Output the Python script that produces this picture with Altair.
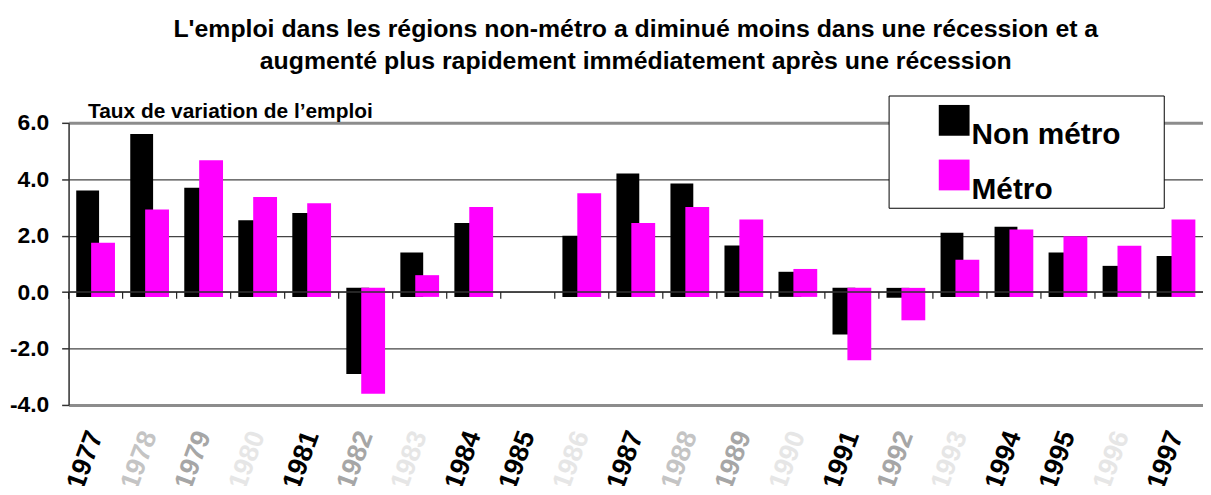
import altair as alt
import pandas as pd

# ---- data -------------------------------------------------------------
years = ["1977", "1978", "1979", "1980", "1981", "1982", "1983", "1984", "1985", "1986", "1987",
         "1988", "1989", "1990", "1991", "1992", "1993", "1994", "1995", "1996", "1997"]
non_metro = [3.6, 5.6, 3.7, 2.55, 2.8, -2.9, 1.4, 2.45, None, 2.0, 4.2,
             3.85, 1.65, 0.72, -1.5, -0.2, 2.1, 2.32, 1.4, 0.93, 1.28]
metro = [1.75, 2.93, 4.67, 3.37, 3.15, -3.6, 0.6, 3.02, None, 3.5, 2.45,
         3.02, 2.57, 0.82, -2.42, -1.0, 1.15, 2.22, 1.98, 1.64, 2.57]
series_names = ["Non métro", "Métro"]
y_ticks = [-4, -2, 0, 2, 4, 6]

# ---- styles -----------------------------------------------------------
series_colors = ["#000000", "#ff00ff"]
label_colors = ["#000000", "#c4c4c4", "#a6a6a6", "#e6e6e6", "#000000", "#a6a6a6", "#e6e6e6",
                "#000000", "#000000", "#e6e6e6", "#000000", "#c4c4c4", "#a6a6a6", "#e6e6e6",
                "#000000", "#a6a6a6", "#e6e6e6", "#000000", "#000000", "#e6e6e6", "#000000"]
FONT = "Liberation Sans"

rows = []
for i, yr in enumerate(years):
    for name, vals in zip(series_names, [non_metro, metro]):
        if vals[i] is not None:
            rows.append({"annee": yr, "serie": name, "valeur": vals[i]})
df = pd.DataFrame(rows)
years_df = pd.DataFrame({"annee": years})

label_color_expr = "".join(
    f"datum.value == '{y}' ? '{c}' : " for y, c in zip(years, label_colors)
) + "'#000000'"

x_scale = alt.Scale(domain=years, paddingInner=0, paddingOuter=0)
y_scale = alt.Scale(domain=[-4, 6], nice=False, zero=False)

x_axis = alt.Axis(
    title=None, domain=False, ticks=False, grid=False,
    labelAngle=-70, labelFont=FONT, labelFontSize=27, labelFontWeight="bold",
    labelColor={"expr": label_color_expr}, labelPadding=27,
)
y_axis = alt.Axis(
    values=y_ticks,
    labelExpr="datum.value < 0 ? '-' + format(abs(datum.value), '.1f') : format(datum.value, '.1f')",
    labelFont=FONT, labelFontSize=23, labelFontWeight="bold", labelColor="#000000",
    labelPadding=13, domainColor="#333333", domainWidth=1.5,
    tickColor="#333333", tickSize=7, tickWidth=1.5,
    grid=True,
    gridColor={"expr": "datum.value == 6 || datum.value == -4 ? '#8c8c8c' : '#444444'"},
    gridWidth={"expr": "datum.value == 6 || datum.value == -4 ? 3 : 1.2"},
    title="Taux de variation de l’emploi", titleAngle=0, titleAlign="left",
    titleBaseline="alphabetic", titleX=19, titleY=-5, titleFont=FONT,
    titleFontSize=21, titleFontWeight="bold", titleColor="#000000",
)

color = alt.Color(
    "serie:N",
    scale=alt.Scale(domain=series_names, range=series_colors),
    legend=alt.Legend(
        orient="none", legendX=876, legendY=-18, title=None, padding=0,
        symbolType="square", symbolSize=961, symbolStrokeWidth=0, symbolOpacity=1,
        labelFont=FONT, labelFontSize=30, labelFontWeight="bold", labelColor="#000000",
        labelBaseline="top", labelOffset=2, rowPadding=9,
    ),
)

base = alt.Chart(df).transform_calculate(
    base0="datum.valeur >= 0 ? -0.17 : 0.15"
)

legend_box = alt.Chart(pd.DataFrame({"k": [0]})).mark_rect(
    fill="white", stroke="black", strokeWidth=1
).encode(x=alt.value(826), x2=alt.value(1103), y=alt.value(-27), y2=alt.value(86))

bars_nm = base.transform_filter(alt.datum.serie == "Non métro").mark_bar(
    width=23, xOffset=-8
).encode(
    x=alt.X("annee:N", scale=x_scale, axis=x_axis),
    y=alt.Y("valeur:Q", scale=y_scale, axis=y_axis),
    y2="base0:Q",
    color=color,
)
bars_m = base.transform_filter(alt.datum.serie == "Métro").mark_bar(
    width=24, xOffset=7.5
).encode(
    x=alt.X("annee:N", scale=x_scale, axis=x_axis),
    y=alt.Y("valeur:Q", scale=y_scale, axis=y_axis),
    y2="base0:Q",
    color=color,
)

zero_line = alt.Chart(pd.DataFrame({"k": [0]})).mark_rule(
    color="#333333", strokeWidth=1.5
).encode(y=alt.datum(0))

ticks = alt.Chart(years_df).mark_rule(color="#222222", strokeWidth=1.2).encode(
    x=alt.X("annee:N", bandPosition=0),
    y=alt.datum(0),
    y2=alt.datum(-0.24),
)

chart = alt.layer(legend_box, bars_nm, bars_m, zero_line, ticks).properties(
    width=1142, height=284,
    autosize=alt.AutoSizeParams(type="none"),
    padding={"left": 61, "top": 114, "right": 0, "bottom": 80},
    title=alt.TitleParams(
        text=["L'emploi dans les régions non-métro a diminué moins dans une récession et a",
              "augmenté plus rapidement immédiatement après une récession"],
        font=FONT, fontSize=25, fontWeight="bold", color="#000000",
        anchor="middle", lineHeight=32, offset=22,
    ),
).configure_view(stroke=None).configure(background="white")

chart.save("out.html", embed_options={"renderer": "svg", "actions": False})
